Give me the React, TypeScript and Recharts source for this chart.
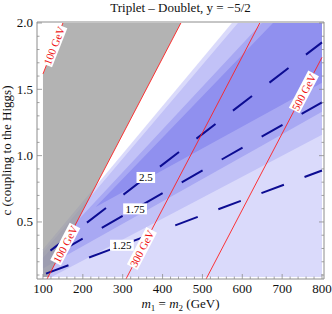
import React from 'react';
import { ComposedChart, Area, Line, Scatter, XAxis, YAxis } from 'recharts';

const CHART_W = 332;
const CHART_H = 314;
const SERIF = '"Liberation Serif", "Times New Roman", Times, serif';
const FRAME = '#8c8c8c';

const titleText = 'Triplet \u2013 Doublet, y = \u22125/2';
const yLabelText = 'c (coupling to the Higgs)';

const xMajorTicks = [100, 200, 300, 400, 500, 600, 700, 800];
const xMinorTicks = [120, 140, 160, 180, 220, 240, 260, 280, 320, 340, 360, 380, 420, 440, 460, 480, 520, 540, 560, 580, 620, 640, 660, 680, 720, 740, 760, 780];
const yMajorTicks = [0.5, 1.0, 1.5, 2.0];
const yMinorTicks = [0.1, 0.2, 0.3, 0.4, 0.6, 0.7, 0.8, 0.9, 1.1, 1.2, 1.3, 1.4, 1.6, 1.7, 1.8, 1.9];

const xDomain: [number, number] = [85, 805];
const yDomain: [number, number] = [0.07, 2.0075];
const mRange: [number, number] = [100, 800];
const cRange: [number, number] = [0.085, 2.0];

type Edge = [number, number]; // c at m = 100 and at m = 800

// shaded regions (boundary lines, c at m=100 and m=800)
const floorEdge: Edge = [0.085, 0.085];
const lightestUpper: Edge = [0.294, 2.814];
const lightLower: Edge = [0.051, 1.157];
const lightUpper: Edge = [0.27, 2.746];
const mediumLower: Edge = [0.15, 1.33];
const mediumUpper: Edge = [0.23, 2.487];
const darkLower: Edge = [0.394, 1.55];
const darkUpper: Edge = [0.2, 2.384];

// excluded (grey) region: upper-left mass contour (m, c)
const upperContourM = [100, 150];
const upperContourC = [1.616, 2.0];
const upperContourLabelC = 1.83;

// lightest-mass contours: m = offset + slope * c
const massLabels = ['100 GeV', '300 GeV', '500 GeV'];
const massOffsets = [98, 296, 497];
const massSlope = 174;
const massLabelC = [0.333, 0.3, 1.48];

// dashed ratio contours
const ratioLabels = ['2.5', '1.75', '1.25'];
const ratioC100 = [0.241, 0.203, 0.102];
const ratioC800 = [1.854, 1.402, 0.888];
const ratioLabelM = [358, 331, 298];
const ratioDashOffset = [36.6, 24.3, 42.8];

const at = (e: Edge, m: number) => e[0] + ((e[1] - e[0]) * (m - mRange[0])) / (mRange[1] - mRange[0]);
const crossAt = (e: Edge, c: number) => mRange[0] + ((c - e[0]) * (mRange[1] - mRange[0])) / (e[1] - e[0]);
const clampC = (c: number) => Math.min(cRange[1], Math.max(cRange[0], c));

function band(low: Edge, high: Edge) {
  const ms: number[] = [mRange[0], mRange[1]];
  for (const e of [low, high]) {
    for (const c of cRange) {
      const m = crossAt(e, c);
      if (Number.isFinite(m) && m > mRange[0] && m < mRange[1]) ms.push(m);
    }
  }
  const d0 = high[0] - low[0];
  const d1 = high[1] - low[1];
  if (d0 * d1 < 0) ms.push(mRange[0] + (d0 / (d0 - d1)) * (mRange[1] - mRange[0]));
  return ms
    .sort((a, b) => a - b)
    .map((m) => {
      const lo = clampC(at(low, m));
      const hi = clampC(at(high, m));
      return { m, r: [lo, Math.max(lo, hi)] };
    });
}

const edgeFromMass = (offset: number): Edge => [(mRange[0] - offset) / massSlope, (mRange[1] - offset) / massSlope];
const upperSlope = (upperContourC[1] - upperContourC[0]) / (upperContourM[1] - upperContourM[0]);
const upperEdge: Edge = [upperContourC[0], upperContourC[0] + upperSlope * (mRange[1] - mRange[0])];

const lightestData = band(floorEdge, lightestUpper);
const lightData = band(lightLower, lightUpper);
const mediumData = band(mediumLower, mediumUpper);
const darkData = band(darkLower, darkUpper);
const greyData = band(edgeFromMass(massOffsets[0]), upperEdge);

const massLineData = massOffsets.map((off) => {
  const c0 = yDomain[0];
  let c1 = 2.0;
  if (off + massSlope * c1 > mRange[1]) c1 = (mRange[1] - off) / massSlope;
  return [
    { m: off + massSlope * c0, c: c0 },
    { m: off + massSlope * c1, c: c1 },
  ];
});
const upperLineData = upperContourM.map((m, i) => ({ m, c: upperContourC[i] }));

const massLabelData = massLabels.map((label, i) => ({ label, c: massLabelC[i], m: massOffsets[i] + massSlope * massLabelC[i] }));
const upperLabelData = [{ label: '100 GeV', c: upperContourLabelC, m: upperContourM[0] + (upperContourLabelC - upperContourC[0]) / upperSlope }];

const ratioLineData = ratioLabels.map((_, i) => [
  { m: mRange[0], c: ratioC100[i] },
  { m: mRange[1], c: ratioC800[i] },
]);
const ratioLabelData = ratioLabels.map((label, i) => ({
  label,
  m: ratioLabelM[i],
  c: at([ratioC100[i], ratioC800[i]], ratioLabelM[i]),
}));

function BottomTick(props: any) {
  const { x, y, payload } = props;
  const major = xMajorTicks.includes(payload.value);
  return (
    <g>
      <line x1={x} x2={x} y1={y} y2={y - (major ? 5 : 2.5)} stroke={FRAME} strokeWidth={0.8} />
      {major && (
        <text x={x} y={y + 14} textAnchor="middle" fontFamily={SERIF} fontSize={13} fill="#111">
          {payload.value}
        </text>
      )}
    </g>
  );
}
function TopTick(props: any) {
  const { x, y, payload } = props;
  const major = xMajorTicks.includes(payload.value);
  return <line x1={x} x2={x} y1={y} y2={y + (major ? 5 : 2.5)} stroke={FRAME} strokeWidth={0.8} />;
}
function LeftTick(props: any) {
  const { x, y, payload } = props;
  const major = yMajorTicks.includes(payload.value);
  return (
    <g>
      <line x1={x} x2={x + (major ? 5 : 2.5)} y1={y} y2={y} stroke={FRAME} strokeWidth={0.8} />
      {major && (
        <text x={x - 4} y={y + 4.5} textAnchor="end" fontFamily={SERIF} fontSize={13} fill="#111">
          {Number(payload.value).toFixed(1)}
        </text>
      )}
    </g>
  );
}
function RightTick(props: any) {
  const { x, y, payload } = props;
  const major = yMajorTicks.includes(payload.value);
  return <line x1={x} x2={x - (major ? 5 : 2.5)} y1={y} y2={y} stroke={FRAME} strokeWidth={0.8} />;
}

const PLOT = { left: 37, top: 22, right: 324, bottom: 279 };

function XTitle(props: any) {
  const vb = props.viewBox && props.viewBox.width ? props.viewBox : { x: PLOT.left, y: PLOT.bottom, width: PLOT.right - PLOT.left };
  const cx = PLOT.left + (PLOT.right - PLOT.left) / 2;
  const y = PLOT.bottom + 29;
  return (
    <text x={cx} y={y} textAnchor="middle" fontFamily={SERIF} fontSize={13} fill="#111">
      <tspan fontStyle="italic">m</tspan>
      <tspan fontSize={9} dy={3}>1</tspan>
      <tspan dy={-3}> = </tspan>
      <tspan fontStyle="italic">m</tspan>
      <tspan fontSize={9} dy={3}>2</tspan>
      <tspan dy={-3}> (GeV)</tspan>
    </text>
  );
}
function TopTitle() {
  const cx = PLOT.left + (PLOT.right - PLOT.left) / 2;
  return (
    <text x={cx} y={PLOT.top - 10.5} textAnchor="middle" fontFamily={SERIF} fontSize={13} fill="#111">
      {titleText}
    </text>
  );
}
function YTitle() {
  const x = PLOT.left - 26;
  const cy = PLOT.top + (PLOT.bottom - PLOT.top) / 2;
  return (
    <text x={x} y={cy} transform={`rotate(-90, ${x}, ${cy})`} textAnchor="middle" fontFamily={SERIF} fontSize={13} fill="#111">
      {yLabelText}
    </text>
  );
}

const MASS_ANGLE = -62.4;
const UPPER_ANGLE = -68.6;

function makeMassLabel(angle: number) {
  return (props: any) => {
    const { cx, cy, payload } = props;
    if (cx == null || cy == null) return <g />;
    return (
      <g transform={`translate(${cx},${cy}) rotate(${angle})`}>
        <rect x={-21} y={-6} width={42} height={12} fill="#ffffff" />
        <text x={0} y={4} textAnchor="middle" fontFamily={SERIF} fontSize={11} fill="#ee1111">
          {payload.label}
        </text>
      </g>
    );
  };
}
function RatioLabel(props: any) {
  const { cx, cy, payload } = props;
  if (cx == null || cy == null) return <g />;
  const w = payload.label.length * 5.2 + 3;
  return (
    <g>
      <rect x={cx - w / 2} y={cy - 5.5} width={w} height={11} fill="#ffffff" />
      <text x={cx} y={cy + 4} textAnchor="middle" fontFamily={SERIF} fontSize={11} fill="#000">
        {payload.label}
      </text>
    </g>
  );
}

const bandColors = { lightest: '#dadafb', light: '#c2c2f7', medium: '#a8a8f3', dark: '#9090ef' };

export default function App() {
  return (
    <div style={{ position: 'absolute', left: 0, top: 0, background: '#fff' }}>
      <ComposedChart
        width={CHART_W}
        height={CHART_H}
        margin={{ top: PLOT.top - 1, right: CHART_W - PLOT.right - 1, bottom: CHART_H - PLOT.bottom - 1, left: PLOT.left - 1 }}
      >
        <XAxis
          xAxisId="x"
          dataKey="m"
          type="number"
          domain={xDomain}
          allowDataOverflow
          ticks={[...xMajorTicks, ...xMinorTicks]}
          interval={0}
          height={1}
          tickSize={0}
          tickMargin={0}
          tick={<BottomTick />}
          axisLine={{ stroke: FRAME }}
          tickLine={false}
          label={<XTitle />}
        />
        <XAxis
          xAxisId="xt"
          orientation="top"
          type="number"
          domain={xDomain}
          allowDataOverflow
          ticks={[...xMajorTicks, ...xMinorTicks]}
          interval={0}
          height={1}
          tickSize={0}
          tickMargin={0}
          tick={<TopTick />}
          axisLine={{ stroke: FRAME }}
          tickLine={false}
          label={<TopTitle />}
        />
        <YAxis
          yAxisId="y"
          dataKey="c"
          type="number"
          domain={yDomain}
          allowDataOverflow
          ticks={[...yMajorTicks, ...yMinorTicks]}
          interval={0}
          width={1}
          tickSize={0}
          tickMargin={0}
          tick={<LeftTick />}
          axisLine={{ stroke: FRAME }}
          tickLine={false}
          label={<YTitle />}
        />
        <YAxis
          yAxisId="yr"
          orientation="right"
          type="number"
          domain={yDomain}
          allowDataOverflow
          ticks={[...yMajorTicks, ...yMinorTicks]}
          interval={0}
          width={1}
          tickSize={0}
          tickMargin={0}
          tick={<RightTick />}
          axisLine={{ stroke: FRAME }}
          tickLine={false}
        />

        <Area xAxisId="x" yAxisId="y" data={lightestData} dataKey="r" type="linear" stroke="none" fill={bandColors.lightest} fillOpacity={1} isAnimationActive={false} dot={false} activeDot={false} />
        <Area xAxisId="x" yAxisId="y" data={lightData} dataKey="r" type="linear" stroke="none" fill={bandColors.light} fillOpacity={1} isAnimationActive={false} dot={false} activeDot={false} />
        <Area xAxisId="x" yAxisId="y" data={mediumData} dataKey="r" type="linear" stroke="none" fill={bandColors.medium} fillOpacity={1} isAnimationActive={false} dot={false} activeDot={false} />
        <Area xAxisId="x" yAxisId="y" data={darkData} dataKey="r" type="linear" stroke="none" fill={bandColors.dark} fillOpacity={1} isAnimationActive={false} dot={false} activeDot={false} />

        {ratioLineData.map((d, i) => (
          <Line key={'ratio' + i} xAxisId="x" yAxisId="y" data={d} dataKey="c" type="linear" stroke="#0c0c92" strokeWidth={2} strokeDasharray="24 22" strokeDashoffset={ratioDashOffset[i]} dot={false} activeDot={false} isAnimationActive={false} />
        ))}

        <Area xAxisId="x" yAxisId="y" data={greyData} dataKey="r" type="linear" stroke="none" fill="#9a9a9a" fillOpacity={0.75} isAnimationActive={false} dot={false} activeDot={false} />

        {massLineData.map((d, i) => (
          <Line key={'mass' + i} xAxisId="x" yAxisId="y" data={d} dataKey="c" type="linear" stroke="#ff2020" strokeWidth={0.9} dot={false} activeDot={false} isAnimationActive={false} />
        ))}
        <Line xAxisId="x" yAxisId="y" data={upperLineData} dataKey="c" type="linear" stroke="#ff2020" strokeWidth={0.9} dot={false} activeDot={false} isAnimationActive={false} />

        <Scatter xAxisId="x" yAxisId="y" data={massLabelData} dataKey="c" shape={makeMassLabel(MASS_ANGLE)} isAnimationActive={false} />
        <Scatter xAxisId="x" yAxisId="y" data={upperLabelData} dataKey="c" shape={makeMassLabel(UPPER_ANGLE)} isAnimationActive={false} />
        <Scatter xAxisId="x" yAxisId="y" data={ratioLabelData} dataKey="c" shape={RatioLabel} isAnimationActive={false} />
      </ComposedChart>
    </div>
  );
}
